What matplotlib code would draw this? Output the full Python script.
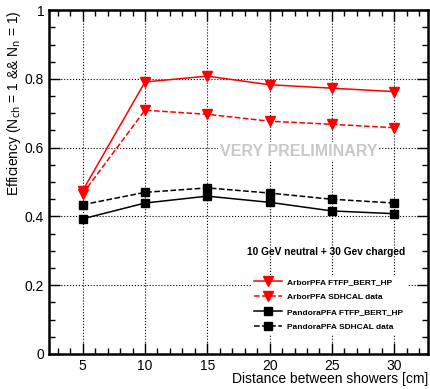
import matplotlib
matplotlib.use("Agg")
import matplotlib.pyplot as plt
from matplotlib.ticker import MultipleLocator

plt.rcParams['font.family'] = ['Liberation Sans', 'DejaVu Sans']

distance = [5, 10, 15, 20, 25, 30]
arbor_sim = [0.475, 0.791, 0.808, 0.783, 0.773, 0.763]
arbor_data = [0.466, 0.709, 0.697, 0.677, 0.668, 0.658]
pandora_sim = [0.393, 0.439, 0.459, 0.441, 0.416, 0.408]
pandora_data = [0.434, 0.470, 0.483, 0.468, 0.450, 0.439]

fig = plt.figure(figsize=(4.3, 3.89), dpi=100)
ax = fig.add_axes([0.114, 0.09, 0.881, 0.884])

ax.plot(distance, arbor_sim, '-', color='red', marker='v', ms=7, lw=1.1,
        label='ArborPFA FTFP_BERT_HP', zorder=5)
ax.plot(distance, arbor_data, '--', color='red', marker='v', ms=7, lw=1.1,
        label='ArborPFA SDHCAL data', zorder=5)
ax.plot(distance, pandora_sim, '-', color='black', marker='s', ms=6, lw=1.1,
        label='PandoraPFA FTFP_BERT_HP', zorder=5)
ax.plot(distance, pandora_data, '--', color='black', marker='s', ms=6, lw=1.1,
        label='PandoraPFA SDHCAL data', zorder=5)

ax.set_xlim(2.3, 32.7)
ax.set_ylim(0, 1)
ax.xaxis.set_major_locator(MultipleLocator(5))
ax.xaxis.set_minor_locator(MultipleLocator(1))
ax.yaxis.set_minor_locator(MultipleLocator(0.05))
ax.set_yticks([0, 0.2, 0.4, 0.6, 0.8, 1])
ax.set_yticklabels(['0', '0.2', '0.4', '0.6', '0.8', '1'])
ax.tick_params(which='both', direction='in', top=True, right=True, labelsize=10)
ax.tick_params(which='major', length=8, width=1)
ax.tick_params(which='minor', length=4, width=1)
ax.grid(True, which='major', color='black', ls=':', lw=0.8)
for s in ax.spines.values():
    s.set_linewidth(1.8)

ax.set_xlabel('Distance between showers [cm]', fontsize=10, ha='right')
ax.xaxis.set_label_coords(1.0, -0.052)
ax.set_ylabel(r'Efficiency (N$_{\rm ch}$ = 1 && N$_{\rm n}$ = 1)', fontsize=10, ha='right')
ax.yaxis.set_label_coords(-0.068, 1.0)

ax.text(22.3, 0.59, 'VERY PRELIMINARY', color='#c8c8c8', fontsize=11.5,
        fontweight='bold', ha='center', va='center', zorder=3,
        bbox=dict(facecolor='white', edgecolor='none', pad=1))
ax.text(24.5, 0.297, '10 GeV neutral + 30 Gev charged', fontsize=7.3,
        fontweight='bold', ha='center', va='center', zorder=3)

leg = ax.legend(loc='lower right', bbox_to_anchor=(0.955, 0.045),
                frameon=True, fancybox=False, edgecolor='none', framealpha=1,
                handlelength=3.4, labelspacing=0.85, handletextpad=0.6,
                prop={'weight': 'bold', 'size': 6.0})
leg.set_zorder(4)

fig.savefig('out.png', dpi=100)
